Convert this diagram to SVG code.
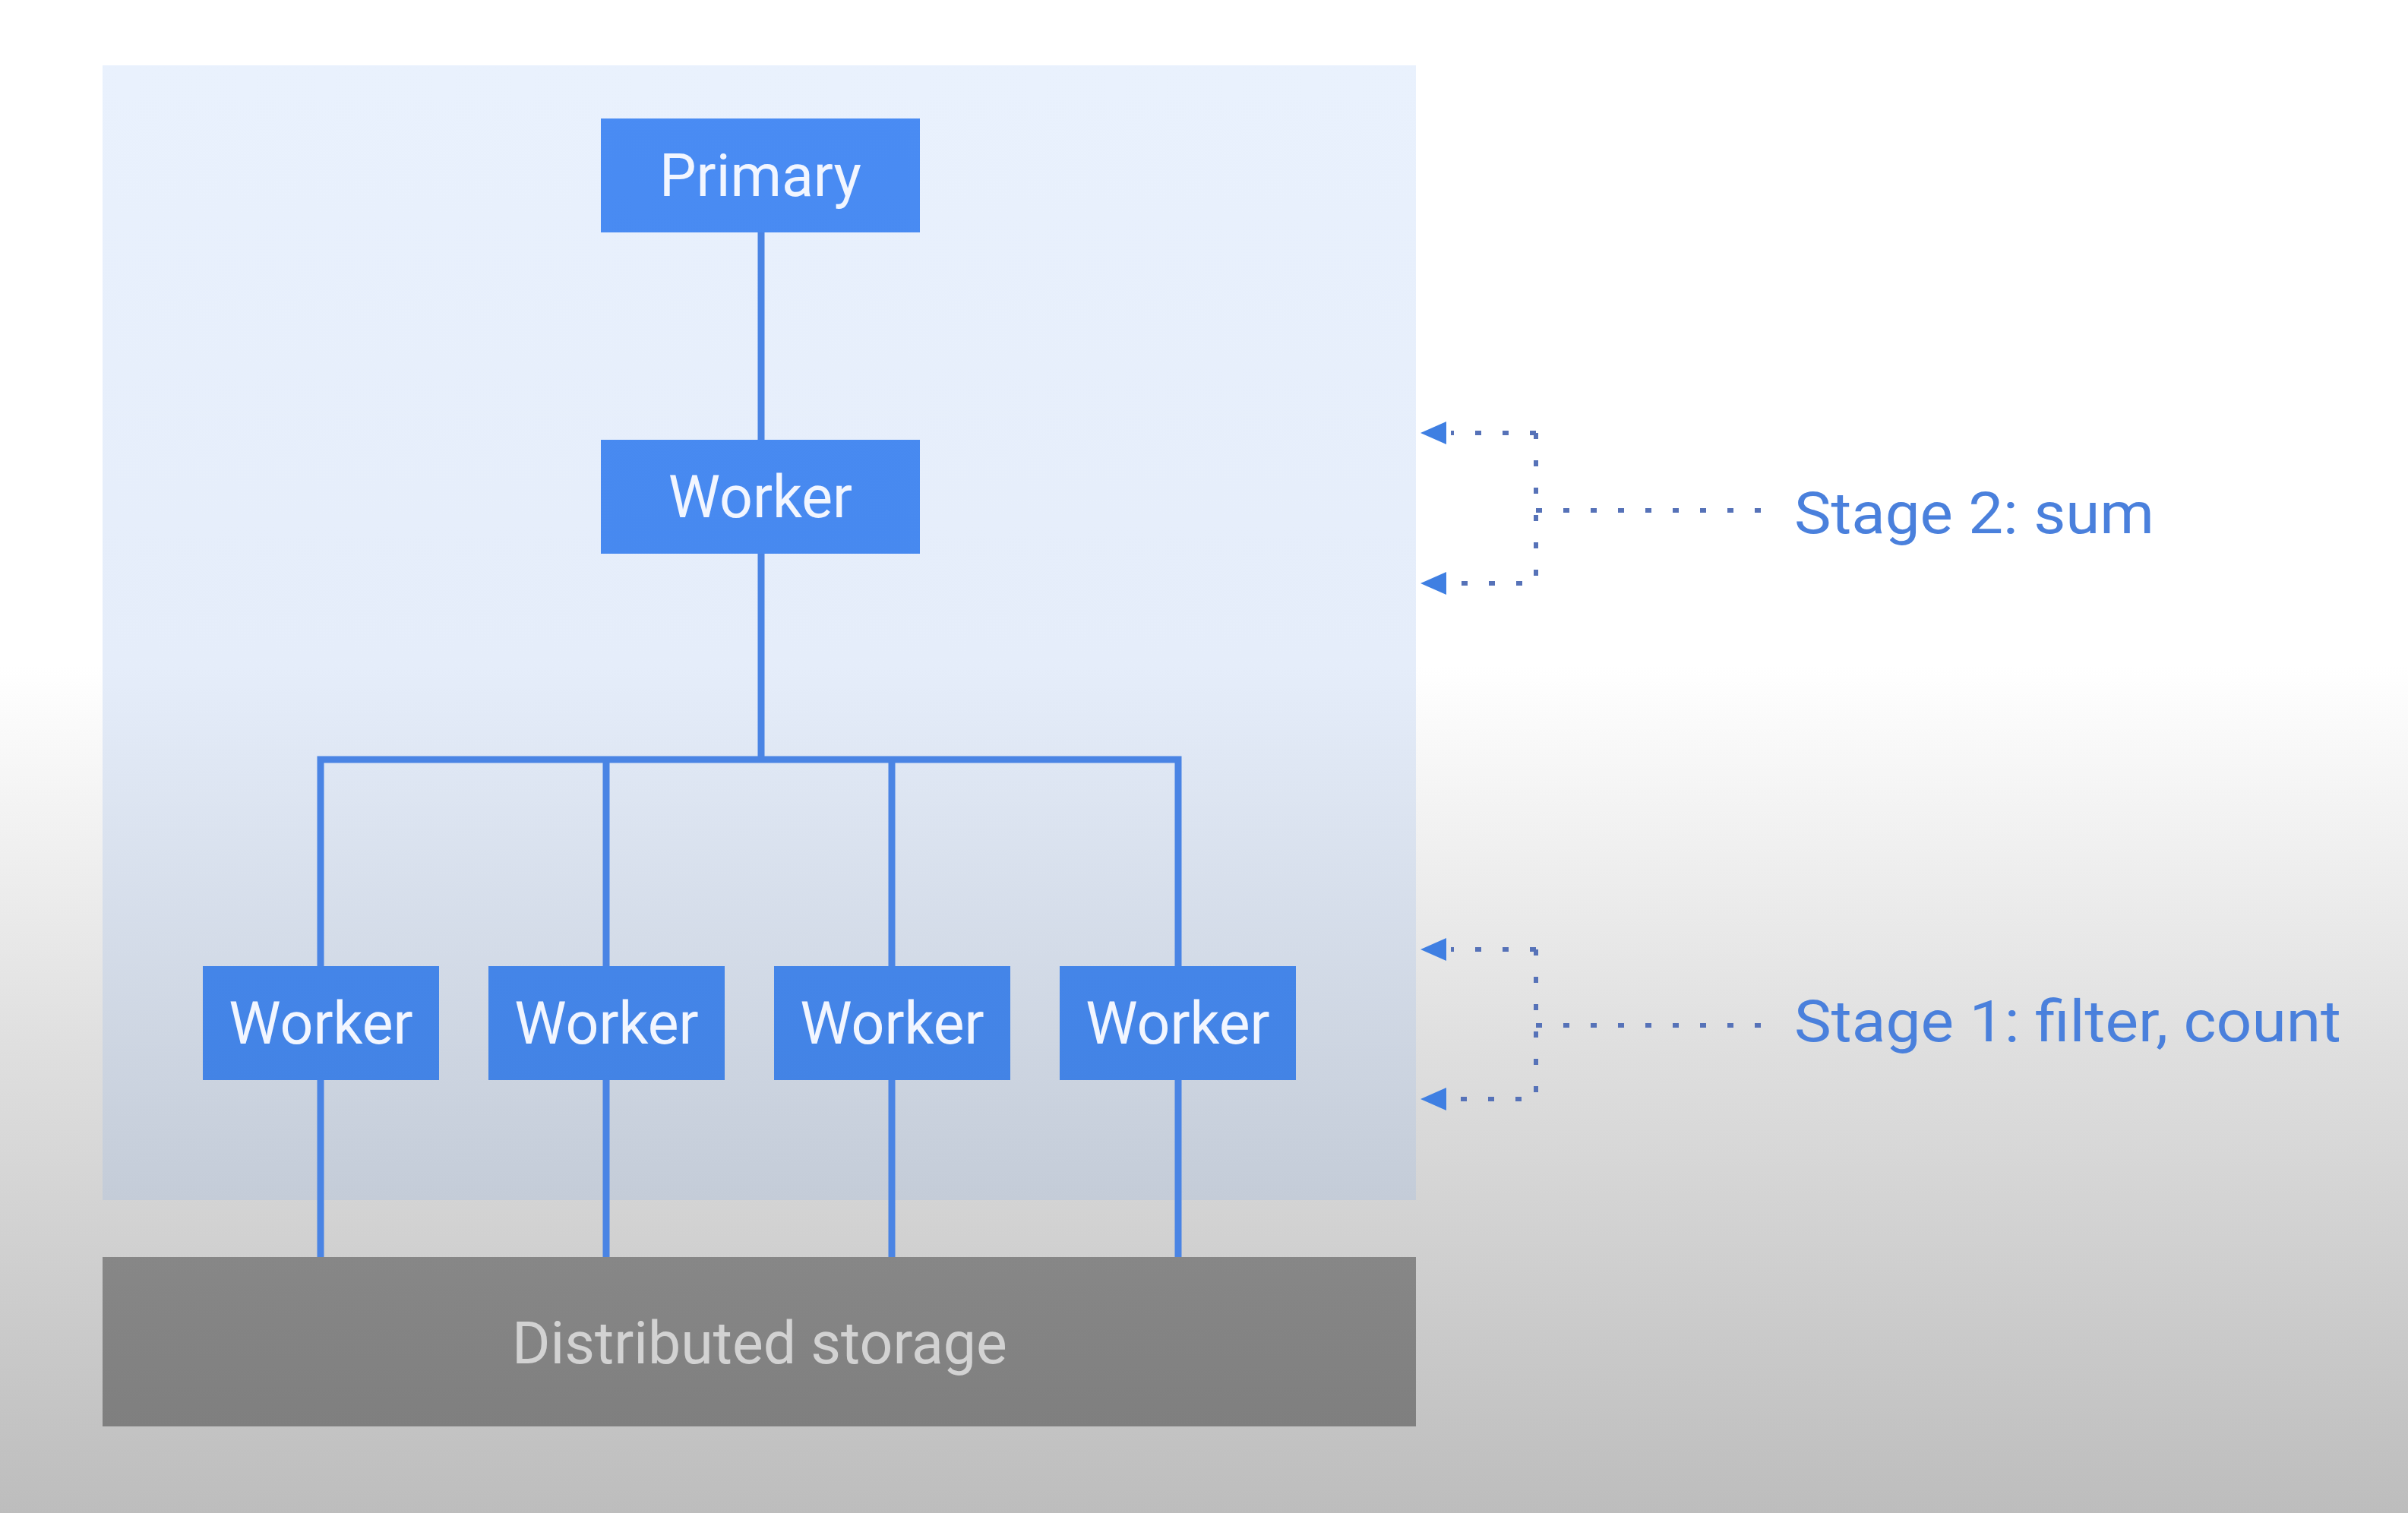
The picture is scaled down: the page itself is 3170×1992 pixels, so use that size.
<svg xmlns="http://www.w3.org/2000/svg" width="3170" height="1992" viewBox="0 0 3170 1992">
<defs>
<linearGradient id="bg" x1="0" y1="0" x2="0" y2="1992" gradientUnits="userSpaceOnUse">
<stop offset="0" stop-color="#ffffff"/>
<stop offset="0.44" stop-color="#ffffff"/>
<stop offset="0.7" stop-color="#dedede"/>
<stop offset="1" stop-color="#bdbdbd"/>
</linearGradient>
<linearGradient id="panel" x1="0" y1="86" x2="0" y2="1580" gradientUnits="userSpaceOnUse">
<stop offset="0" stop-color="#e9f1fd"/>
<stop offset="0.53" stop-color="#e5edfa"/>
<stop offset="1" stop-color="#c4ccd8"/>
</linearGradient>
<linearGradient id="store" x1="0" y1="1655" x2="0" y2="1878" gradientUnits="userSpaceOnUse">
<stop offset="0" stop-color="#878787"/>
<stop offset="1" stop-color="#7f7f7f"/>
</linearGradient>
<linearGradient id="boxg" x1="0" y1="0" x2="0" y2="1992" gradientUnits="userSpaceOnUse">
<stop offset="0" stop-color="#4a8cf4"/>
<stop offset="0.5" stop-color="#4688ee"/>
<stop offset="1" stop-color="#3f7dd9"/>
</linearGradient>
<style>
.box{fill:url(#boxg);}
.lbl{font-family:Roboto,"Liberation Sans",sans-serif;font-size:77px;fill:#f2f6ff;text-anchor:middle;}
.stage{font-family:Roboto,"Liberation Sans",sans-serif;font-size:76px;fill:#4a80dc;}
.conn{stroke:#4a84e4;stroke-width:9;fill:none;}
.dot{stroke:#5672b8;stroke-width:6;fill:none;stroke-dasharray:8 28;}
.arr{fill:#3f7fe2;}
</style>
</defs>
<rect x="0" y="0" width="3170" height="1992" fill="url(#bg)"/>
<rect id="panel-bg" x="135" y="86" width="1729" height="1494" fill="url(#panel)"/>

<g id="connectors">
<line class="conn" x1="1002" y1="305" x2="1002" y2="580"/>
<line class="conn" x1="1002" y1="728" x2="1002" y2="1000"/>
<polyline class="conn" points="422,1272 422,1000 1551,1000 1551,1272"/>
<line class="conn" x1="798" y1="1000" x2="798" y2="1272"/>
<line class="conn" x1="1174" y1="1000" x2="1174" y2="1272"/>
<line class="conn" x1="422" y1="1421" x2="422" y2="1656"/>
<line class="conn" x1="798" y1="1421" x2="798" y2="1656"/>
<line class="conn" x1="1174" y1="1421" x2="1174" y2="1656"/>
<line class="conn" x1="1551" y1="1421" x2="1551" y2="1656"/>
</g>

<g id="storage">
<rect x="135" y="1655" width="1729" height="223" fill="url(#store)"/>
<text x="1000" y="1795" style="font-family:Roboto,'Liberation Sans',sans-serif;font-size:77px;fill:#d2d2d2;text-anchor:middle">Distributed storage</text>
</g>

<g id="primary">
<rect class="box" x="791" y="156" width="420" height="150"/>
<text class="lbl" x="1001" y="258">Primary</text>
</g>
<g id="worker-mid">
<rect class="box" x="791" y="579" width="420" height="150"/>
<text class="lbl" x="1001" y="681">Worker</text>
</g>
<g id="worker-1">
<rect class="box" x="267" y="1272" width="311" height="150"/>
<text class="lbl" x="422.5" y="1374">Worker</text>
</g>
<g id="worker-2">
<rect class="box" x="643" y="1272" width="311" height="150"/>
<text class="lbl" x="798.5" y="1374">Worker</text>
</g>
<g id="worker-3">
<rect class="box" x="1019" y="1272" width="311" height="150"/>
<text class="lbl" x="1174.5" y="1374">Worker</text>
</g>
<g id="worker-4">
<rect class="box" x="1395" y="1272" width="311" height="150"/>
<text class="lbl" x="1550.5" y="1374">Worker</text>
</g>

<g id="stage2">
<path class="dot" d="M2022,570 L1910,570 M2022,570 L2022,768 L1910,768 M2022,672 L2334,672"/>
<polygon class="arr" points="1870,570 1904,555 1904,585"/>
<polygon class="arr" points="1870,768 1904,753 1904,783"/>
<text class="stage" x="2362" y="702" textLength="474" lengthAdjust="spacingAndGlyphs">Stage 2: sum</text>
</g>
<g id="stage1">
<path class="dot" d="M2022,1250 L1910,1250 M2022,1250 L2022,1447 L1910,1447 M2022,1350 L2334,1350"/>
<polygon class="arr" points="1870,1250 1904,1235 1904,1265"/>
<polygon class="arr" points="1870,1447 1904,1432 1904,1462"/>
<text class="stage" x="2362" y="1371" textLength="720" lengthAdjust="spacingAndGlyphs">Stage 1: filter, count</text>
</g>
</svg>
